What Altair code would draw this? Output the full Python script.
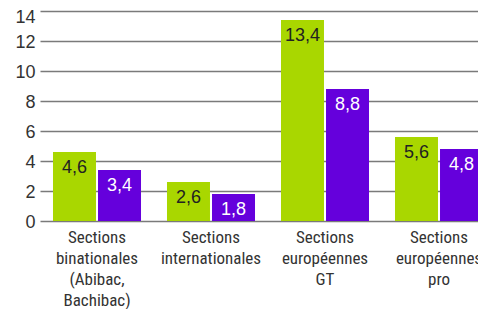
import altair as alt
import pandas as pd

categories = [
    "Sections\nbinationales\n(Abibac,\nBachibac)",
    "Sections\ninternationales",
    "Sections\neuropéennes\nGT",
    "Sections\neuropéennes\npro",
]
series = ["Série 1", "Série 2"]
values_1 = [4.6, 2.6, 13.4, 5.6]
values_2 = [3.4, 1.8, 8.8, 4.8]
colors = ["#A9D700", "#6500DC"]
text_colors = ["#222222", "#FFFFFF"]
y_ticks = [0, 2, 4, 6, 8, 10, 12, 14]

rows = []
for c, a, b in zip(categories, values_1, values_2):
    rows.append({"cat": c, "serie": series[0], "v": a})
    rows.append({"cat": c, "serie": series[1], "v": b})
df = pd.DataFrame(rows)

FONT = "Liberation Sans Narrow, Roboto Condensed, Arial Narrow, DejaVu Sans Condensed, sans-serif"
TICKFONT = "Liberation Sans, Arial, sans-serif"

x = alt.X(
    "cat:N",
    sort=categories,
    title=None,
    scale=alt.Scale(paddingInner=0.228, paddingOuter=0.114),
    axis=alt.Axis(
        labelAngle=0,
        labelExpr="split(datum.label, '\\n')",
        labelFont=FONT,
        labelFontSize=17,
        labelLineHeight=21,
        labelColor="#333333",
        labelPadding=8,
        ticks=False,
        domain=False,
        grid=False,
        labelLimit=200,
        labelOverlap=False,
        labelBound=False,
    ),
)
xo = alt.XOffset("serie:N", sort=series, scale=alt.Scale(paddingInner=0.045))
y = alt.Y(
    "v:Q",
    title=None,
    scale=alt.Scale(domain=[0, 14], nice=False),
    axis=alt.Axis(
        values=y_ticks,
        tickCount=8,
        labelFont=TICKFONT,
        labelFontSize=18,
        labelColor="#333333",
        labelPadding=5,
        labelOffset={"expr": "datum.value == 14 ? 6 : 1"},
        labelOverlap=False,
        ticks=False,
        domain=False,
        grid=True,
        gridColor="#7a7a7a",
        gridWidth=1.5,
    ),
)

base = alt.Chart(df).encode(x=x, xOffset=xo, y=y)

bars = base.mark_bar().encode(
    color=alt.Color("serie:N", scale=alt.Scale(domain=series, range=colors), legend=None),
)

labels = base.mark_text(baseline="middle", dy=16, font=TICKFONT, fontSize=18).transform_calculate(
    lab="replace(format(datum.v, '.1f'), '.', ',')"
).encode(
    text="lab:N",
    color=alt.Color("serie:N", scale=alt.Scale(domain=series, range=text_colors), legend=None),
)

chart = (
    alt.layer(bars, labels)
    .resolve_scale(color="independent")
    .properties(
        width=456,
        height=210,
        autosize=alt.AutoSizeParams(type="none"),
        padding={"left": 32, "top": 3, "right": -18, "bottom": 88},
    )
    .configure_view(stroke=None)
)

chart.save("out.html", embed_options={"renderer": "svg", "actions": False})
